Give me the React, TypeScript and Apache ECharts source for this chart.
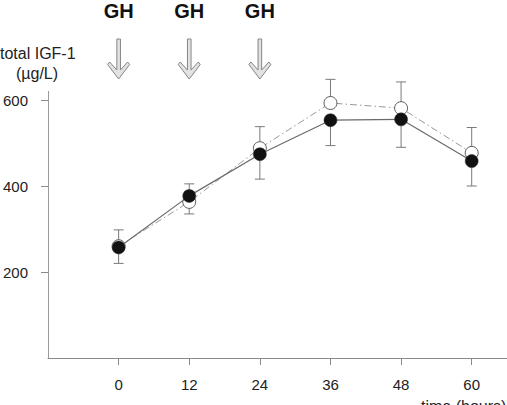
import React, { useEffect, useRef } from "react";
import * as echarts from "echarts";

// Sampling times (hours) and total IGF-1 (µg/L), mean with error
const hours = [0, 12, 24, 36, 48, 60];
const filledMean = [257, 377, 474, 553, 555, 458];
const filledErr = [37, 42, 58, 59, 65, 58];
const openMean = [260, 363, 488, 593, 581, 477];
const openErr = [38, 42, 50, 55, 61, 59];

// GH injections
const doseTimes = [0, 12, 24];
const doseLabel = "GH";

const xTicks = [0, 12, 24, 36, 48, 60];
const yTicks = [200, 400, 600];

const FONT = "'Liberation Sans', Arial, Helvetica, sans-serif";

export default function App() {
  const ref = useRef<HTMLDivElement>(null);

  useEffect(() => {
    if (!ref.current) return;
    const chart = echarts.init(ref.current, null, { renderer: "svg" });

    const filledPts = hours.map((h, i) => [h, filledMean[i]]);
    const openPts = hours.map((h, i) => [h, openMean[i]]);
    // error whiskers: open group points upward, filled group downward
    const whiskers = [
      ...hours.map((h, i) => [h, filledMean[i] - filledErr[i], filledMean[i]]),
      ...hours.map((h, i) => [h, openMean[i], openMean[i] + openErr[i]]),
    ];

    const option: any = {
      animation: false,
      backgroundColor: "#ffffff",
      textStyle: { fontFamily: FONT },
      grid: { left: 44, top: 91.4, width: 469, height: 266.6, containLabel: false },
      xAxis: {
        type: "value",
        min: -12,
        max: 66,
        axisLine: { onZero: false, lineStyle: { color: "#8a8a8a", width: 1 } },
        axisTick: { customValues: xTicks, length: 7, lineStyle: { color: "#8a8a8a" } },
        axisLabel: {
          customValues: xTicks,
          margin: 19,
          fontSize: 15,
          color: "#222",
          fontFamily: FONT,
        },
        splitLine: { show: false },
      },
      yAxis: {
        type: "value",
        min: 0,
        max: 620,
        axisLine: { show: true, onZero: false, lineStyle: { color: "#9a9a9a", width: 1 } },
        axisTick: { show: true, customValues: yTicks, length: 7, lineStyle: { color: "#8a8a8a" } },
        axisLabel: {
          customValues: yTicks,
          margin: 20,
          fontSize: 15,
          color: "#222",
          fontFamily: FONT,
        },
        splitLine: { show: false },
      },
      series: [
        {
          type: "custom",
          z: 1,
          data: whiskers,
          renderItem: (_params: any, api: any) => {
            const x = api.value(0);
            const lo = api.coord([x, api.value(1)]);
            const hi = api.coord([x, api.value(2)]);
            const cap = 5;
            const style = { stroke: "#7a7a7a", lineWidth: 1 };
            return {
              type: "group",
              children: [
                { type: "line", shape: { x1: lo[0], y1: lo[1], x2: hi[0], y2: hi[1] }, style },
                { type: "line", shape: { x1: lo[0] - cap, y1: lo[1], x2: lo[0] + cap, y2: lo[1] }, style },
                { type: "line", shape: { x1: hi[0] - cap, y1: hi[1], x2: hi[0] + cap, y2: hi[1] }, style },
              ],
            };
          },
        },
        {
          type: "line",
          z: 2,
          data: openPts,
          symbol: "circle",
          symbolSize: 13,
          lineStyle: { color: "#9a9a9a", width: 1, type: [7, 3, 1.5, 3] },
          itemStyle: { color: "#ffffff", borderColor: "#5a5a5a", borderWidth: 1 },
        },
        {
          type: "line",
          z: 3,
          data: filledPts,
          symbol: "circle",
          symbolSize: 13,
          lineStyle: { color: "#6a6a6a", width: 1.2 },
          itemStyle: { color: "#111111", borderColor: "#333", borderWidth: 0.5 },
        },
      ],
    };
    chart.setOption(option);

    // dose markers above the plot, placed on the time axis
    const arrowY0 = 39;
    const graphics: any[] = [];
    doseTimes.forEach((t) => {
      const cx = chart.convertToPixel({ xAxisIndex: 0 }, t) as number;
      graphics.push({
        type: "text",
        x: cx,
        y: 11,
        style: {
          text: doseLabel,
          font: `bold 20px ${FONT}`,
          fill: "#111",
          align: "center",
          verticalAlign: "middle",
        },
      });
      const pts = [
        [-1.8, 0], [1.8, 0], [1.8, 31], [9, 23], [11, 25.5], [0, 40],
        [-11, 25.5], [-9, 23], [-1.8, 31],
      ].map(([dx, dy]) => [cx + dx, arrowY0 + dy]);
      graphics.push({
        type: "polygon",
        shape: { points: pts },
        style: { fill: "#e2e2e2", stroke: "#858585", lineWidth: 1 },
      });
    });
    graphics.push(
      {
        type: "text",
        x: 0,
        y: 53,
        style: { text: "total IGF-1", font: `16px ${FONT}`, fill: "#222", align: "left", verticalAlign: "middle" },
      },
      {
        type: "text",
        x: 37,
        y: 73,
        style: { text: "(µg/L)", font: `16px ${FONT}`, fill: "#222", align: "center", verticalAlign: "middle" },
      },
      {
        type: "text",
        x: 421,
        y: 398,
        style: { text: "time (hours)", font: `16px ${FONT}`, fill: "#222", align: "left", verticalAlign: "top" },
      }
    );
    chart.setOption({ graphic: graphics });

    return () => chart.dispose();
  }, []);

  return (
    <div
      ref={ref}
      style={{ position: "fixed", left: 0, top: 0, width: 507, height: 405, background: "#fff" }}
    />
  );
}
